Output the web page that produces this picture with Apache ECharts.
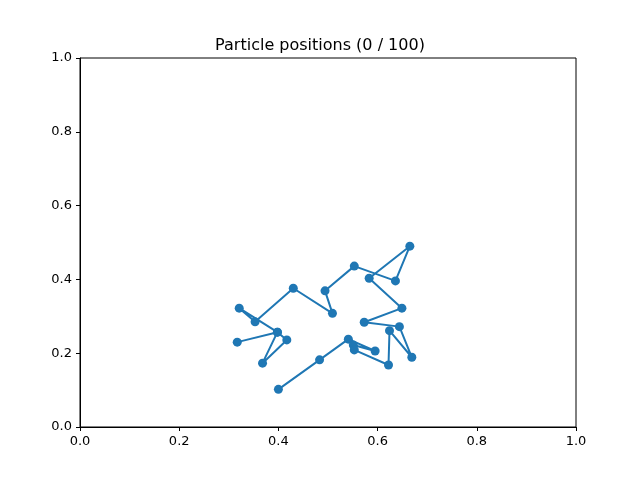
<!DOCTYPE html>
<html><head><meta charset="utf-8">
<script src="https://cdn.jsdelivr.net/npm/echarts@6/dist/echarts.min.js"></script>
<style>html,body{margin:0;padding:0;background:#fff}#c{width:640px;height:480px}</style>
</head><body><div id="c"></div>
<script>
const xs = [0.400,0.483,0.541,0.595,0.551,0.553,0.622,0.624,0.669,0.644,0.573,0.649,0.583,0.665,0.636,0.553,0.494,0.509,0.430,0.353,0.321,0.398,0.368,0.417,0.398,0.317];
const ys = [0.102,0.182,0.238,0.206,0.222,0.209,0.168,0.261,0.189,0.272,0.284,0.322,0.403,0.490,0.396,0.436,0.369,0.308,0.376,0.285,0.322,0.257,0.173,0.236,0.257,0.230];
const ticks = [0,0.2,0.4,0.6,0.8,1.0];
const titleText = 'Particle positions (0 / 100)';
const chart = echarts.init(document.getElementById('c'));
const axisCommon = {
  min: 0, max: 1, interval: 0.2,
  axisLine: {onZero:false, lineStyle:{color:'#000'}},
  axisTick: {show:true, length:4, lineStyle:{color:'#000'}},
  axisLabel: {color:'#000', fontSize:13, fontFamily:'DejaVu Sans', formatter: v => v.toFixed(1)},
  splitLine: {show:false}
};
chart.setOption({
  animation:false,
  title:{text:titleText,left:'center',top:33,textStyle:{fontFamily:'DejaVu Sans',fontSize:16,fontWeight:'normal',color:'#000'}},
  grid:{left:80,right:64,top:58,bottom:53,show:true,borderColor:'#000',borderWidth:1},
  xAxis:Object.assign({type:'value'},axisCommon),
  yAxis:Object.assign({type:'value'},axisCommon),
  series:[{type:'line',data:xs.map((x,i)=>[x,ys[i]]),symbol:'circle',symbolSize:9,
    lineStyle:{color:'#1f77b4',width:2},itemStyle:{color:'#1f77b4'}}]
});
</script></body></html>
